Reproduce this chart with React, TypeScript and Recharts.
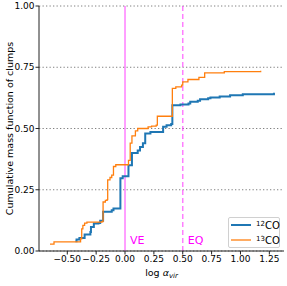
import React from "react";
import {
  LineChart,
  Line,
  XAxis,
  YAxis,
  CartesianGrid,
  ReferenceLine,
} from "recharts";

// log alpha_vir at each step, and cumulative mass fraction after the step
const co12X = [
  -0.43, -0.42, -0.395, -0.35, -0.3, -0.295, -0.27, -0.23, -0.215, -0.19, -0.115,
  -0.1, -0.04, -0.02, 0.03, 0.06, 0.11, 0.13, 0.155, 0.175, 0.22, 0.33, 0.36, 0.4,
  0.41, 0.48, 0.55, 0.565, 0.63, 0.65, 0.72, 0.74, 0.82, 0.91, 1.02, 1.29,
];
const co12Y = [
  0.04, 0.047, 0.053, 0.067, 0.078, 0.098, 0.112, 0.114, 0.123, 0.16, 0.166,
  0.173, 0.297, 0.305, 0.35, 0.4, 0.41, 0.425, 0.44, 0.48, 0.486, 0.507, 0.513,
  0.518, 0.595, 0.598, 0.602, 0.609, 0.613, 0.619, 0.623, 0.627, 0.631, 0.636,
  0.64, 0.646,
];
const co13X = [
  -0.65, -0.615, -0.385, -0.375, -0.365, -0.35, -0.33, -0.2, -0.19, -0.17, -0.155,
  -0.15, -0.13, -0.115, -0.1, -0.08, 0.03, 0.045, 0.06, 0.09, 0.11, 0.2, 0.23,
  0.27, 0.28, 0.41, 0.44, 0.49, 0.5, 0.545, 0.64, 0.69, 0.86, 1.175,
];
const co13Y = [
  0.028, 0.037, 0.05, 0.09, 0.105, 0.114, 0.118, 0.12, 0.2, 0.207, 0.21, 0.29,
  0.3, 0.31, 0.345, 0.352, 0.37, 0.44, 0.47, 0.49, 0.5, 0.507, 0.51, 0.514, 0.55,
  0.664, 0.67, 0.677, 0.69, 0.7, 0.709, 0.727, 0.732, 0.736,
];

const xTicks = [-0.5, -0.25, 0, 0.25, 0.5, 0.75, 1.0, 1.25];
const yTicks = [0, 0.25, 0.5, 0.75, 1.0];

const co12 = co12X.map((x, i) => ({ x, y: co12Y[i] }));
const co13 = co13X.map((x, i) => ({ x, y: co13Y[i] }));

const FONT = "DejaVu Sans";
const BLUE = "#1f77b4";
const ORANGE = "#ff7f0e";
const MAGENTA = "#ff00ff";

const fmt = (v: number) => (v < 0 ? "\u2212" + (-v).toFixed(2) : v.toFixed(2));

const YLabel = (props: any) => {
  const { viewBox } = props;
  const cy = viewBox.y + viewBox.height / 2;
  return (
    <text
      x={9}
      y={cy}
      transform={`rotate(-90, 9, ${cy})`}
      textAnchor="middle"
      dominantBaseline="central"
      fontSize={9.5}
      fontFamily={FONT}
      fill="#000"
    >
      Cumulative mass function of clumps
    </text>
  );
};

const XLabel = (props: any) => {
  const { viewBox } = props;
  const cx = viewBox.x + viewBox.width / 2;
  return (
    <text x={cx} y={276} textAnchor="middle" fontSize={9.5} fontFamily={FONT} fill="#000">
      log{" "}
      <tspan fontStyle="italic">α</tspan>
      <tspan fontStyle="italic" fontSize={7} dy={2}>
        vir
      </tspan>
    </text>
  );
};

const refLabel = (text: string) => (props: any) => {
  const { viewBox } = props;
  return (
    <text
      x={viewBox.x + 5}
      y={viewBox.y + viewBox.height - 7}
      fontSize={11}
      fontFamily={FONT}
      fill={MAGENTA}
    >
      {text}
    </text>
  );
};

const LegendBox = () => (
  <div
    style={{
      position: "absolute",
      left: 228,
      top: 217,
      width: 52,
      height: 31,
      border: "1px solid #d0d0d0",
      borderRadius: 2,
      background: "rgba(255,255,255,0.8)",
      fontFamily: FONT,
      fontSize: 10,
      boxSizing: "border-box",
    }}
  >
    {[
      { c: BLUE, w: 2, top: 6, n: "12" },
      { c: ORANGE, w: 1.3, top: 21, n: "13" },
    ].map((e) => (
      <div
        key={e.n}
        style={{ position: "absolute", left: 2, top: e.top - 6, display: "flex", alignItems: "center" }}
      >
        <svg width={20} height={12} style={{ display: "block" }}>
          <line x1={0} x2={20} y1={6} y2={6} stroke={e.c} strokeWidth={e.w} />
        </svg>
        <span style={{ marginLeft: 5, lineHeight: "12px", whiteSpace: "nowrap" }}>
          <sup style={{ fontSize: 7, verticalAlign: 3 }}>{e.n}</sup>CO
        </span>
      </div>
    ))}
  </div>
);

export default function App() {
  return (
    <div style={{ position: "absolute", left: 0, top: 0, width: 287, height: 286, background: "#fff" }}>
      <LineChart width={287} height={286} margin={{ top: 6, right: 3, left: 0, bottom: 0 }}>
        <CartesianGrid vertical={false} stroke="#808080" strokeDasharray="1.3 2.2" strokeWidth={1} />
        <XAxis
          dataKey="x"
          type="number"
          domain={[-0.745, 1.377]}
          ticks={xTicks}
          tickFormatter={fmt}
          allowDataOverflow
          height={35}
          tickSize={3.5}
          tickMargin={1.5}
          stroke="#222"
          tick={{ fontSize: 9, fontFamily: FONT, fill: "#000" }}
          label={<XLabel />}
        />
        <XAxis
          xAxisId="top"
          orientation="top"
          type="number"
          domain={[-0.745, 1.377]}
          height={0}
          tick={false}
          tickLine={false}
          stroke="#222"
        />
        <YAxis
          type="number"
          domain={[0, 1]}
          ticks={yTicks}
          tickFormatter={(v: number) => v.toFixed(2)}
          width={39}
          tickSize={3.5}
          tickMargin={1}
          stroke="#222"
          tick={{ fontSize: 9, fontFamily: FONT, fill: "#000" }}
          label={<YLabel />}
        />
        <YAxis
          yAxisId="right"
          orientation="right"
          type="number"
          domain={[0, 1]}
          width={0}
          tick={false}
          tickLine={false}
          stroke="#222"
        />
        <ReferenceLine
          x={0}
          stroke={MAGENTA}
          strokeOpacity={0.5}
          strokeWidth={1.5}
          label={refLabel("VE")}
        />
        <ReferenceLine
          x={0.5}
          stroke={MAGENTA}
          strokeOpacity={0.5}
          strokeWidth={1.5}
          strokeDasharray="5 3"
          label={refLabel("EQ")}
        />
        <Line
          data={co12}
          dataKey="y"
          type="stepAfter"
          stroke={BLUE}
          strokeWidth={2}
          dot={false}
          isAnimationActive={false}
        />
        <Line
          data={co13}
          dataKey="y"
          type="stepAfter"
          stroke={ORANGE}
          strokeWidth={1.3}
          dot={false}
          isAnimationActive={false}
        />
      </LineChart>
      <LegendBox />
    </div>
  );
}
